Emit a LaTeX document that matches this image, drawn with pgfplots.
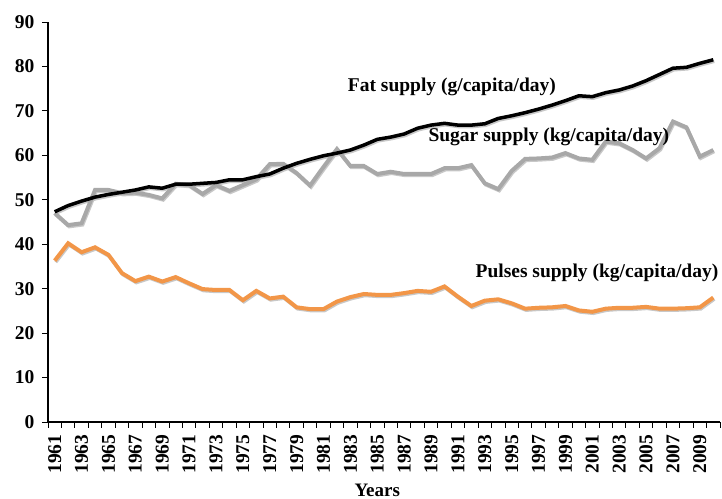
\documentclass[border=0pt]{standalone}
\usepackage{fontspec}
\setmainfont{Liberation Serif}
\usepackage{pgfplots}
\usepackage{pgfplotstable}
\pgfplotsset{compat=1.18}
\definecolor{pulse}{RGB}{242,150,72}
\definecolor{sugar}{RGB}{168,168,168}
\definecolor{shadowc}{RGB}{200,200,200}

\pgfplotstableread{
x fat sugar pulses
0 47.3 47.0 36.3
1 48.7 44.3 40.2
2 49.7 44.7 38.2
3 50.6 52.2 39.3
4 51.2 52.2 37.6
5 51.7 51.5 33.5
6 52.2 51.6 31.7
7 52.9 51.1 32.7
8 52.6 50.3 31.6
9 53.5 53.6 32.6
10 53.5 53.3 31.2
11 53.7 51.3 29.9
12 53.9 53.3 29.7
13 54.5 52.0 29.7
14 54.5 53.3 27.4
15 55.2 54.6 29.5
16 55.8 58.0 27.8
17 57.1 58.1 28.2
18 58.2 56.0 25.8
19 59.1 53.2 25.4
20 59.9 57.4 25.4
21 60.5 61.4 27.1
22 61.2 57.6 28.1
23 62.3 57.6 28.8
24 63.6 55.8 28.6
25 64.1 56.3 28.6
26 64.8 55.8 29.0
27 66.1 55.8 29.5
28 66.8 55.8 29.3
29 67.2 57.1 30.5
30 66.8 57.1 28.2
31 66.8 57.8 26.1
32 67.1 53.7 27.3
33 68.3 52.4 27.6
34 68.9 56.5 26.7
35 69.6 59.2 25.5
36 70.4 59.3 25.7
37 71.3 59.5 25.8
38 72.3 60.5 26.1
39 73.4 59.3 25.1
40 73.2 59.0 24.8
41 74.1 63.1 25.5
42 74.7 62.7 25.7
43 75.6 61.2 25.7
44 76.8 59.3 25.9
45 78.2 61.6 25.5
46 79.6 67.6 25.5
47 79.8 66.3 25.6
48 80.7 59.7 25.8
49 81.5 61.2 28.0
}\data

\begin{document}
\begin{tikzpicture}
\begin{axis}[
  scale only axis,
  width=672pt, height=400pt,
  xmin=-0.5, xmax=49.5, ymin=0, ymax=90,
  axis lines*=left,
  axis line style={line width=1.8pt, -},
  clip=false,
  ytick={0,10,...,90},
  xtick={-0.5,0.5,...,49.5},
  xticklabels={},
  extra x ticks={0,2,...,48},
  extra x tick labels={1961,1963,1965,1967,1969,1971,1973,1975,1977,1979,1981,1983,1985,1987,1989,1991,1993,1995,1997,1999,2001,2003,2005,2007,2009},
  extra x tick style={major tick length=0pt, xticklabel shift=9pt},
  tick align=outside,
  major tick length=6pt,
  tick style={black, line width=0.9pt},
  /pgf/number format/assume math mode=true,
  x tick label style={rotate=90, anchor=east, font=\fontsize{19.5}{19.5}\selectfont\bfseries},
  y tick label style={font=\fontsize{19.5}{19.5}\selectfont\bfseries},
  yticklabel shift=4pt,
  xlabel={Years},
  xlabel style={at={(axis description cs:0.49,0)}, anchor=center, yshift=-68pt, font=\fontsize{19}{19}\selectfont\bfseries},
]
\coordinate (SW) at (rel axis cs:0,0);
\coordinate (NE) at (rel axis cs:1,1);
% shadows
\addplot[shadowc, line width=3.5pt, xshift=1pt, yshift=-1.5pt] table[x=x,y=sugar]{\data};
\addplot[shadowc, line width=3.5pt, xshift=1pt, yshift=-1.5pt] table[x=x,y=pulses]{\data};
\addplot[shadowc, line width=3.5pt, xshift=1pt, yshift=-1.5pt] table[x=x,y=fat]{\data};
% lines
\addplot[sugar, line width=4pt, line join=miter] table[x=x,y=sugar]{\data};
\addplot[pulse, line width=4pt, line join=miter] table[x=x,y=pulses]{\data};
\addplot[black, line width=3.5pt, line join=round] table[x=x,y=fat]{\data};
\node[anchor=west, inner sep=0, font=\fontsize{19.5}{20}\selectfont\bfseries] at (axis cs:21.8,75.4) {Fat supply (g/capita/day)};
\node[anchor=west, inner sep=0, font=\fontsize{19.5}{20}\selectfont\bfseries] at (axis cs:27.8,64.1) {Sugar supply (kg/capita/day)};
\node[anchor=west, inner sep=0, font=\fontsize{19.5}{20}\selectfont\bfseries] at (axis cs:31.3,33.5) {Pulses supply (kg/capita/day)};
\end{axis}
\pgfresetboundingbox
\path ([xshift=-48pt,yshift=-77pt]SW) rectangle ([xshift=2pt,yshift=22pt]NE);
\end{tikzpicture}
\end{document}
